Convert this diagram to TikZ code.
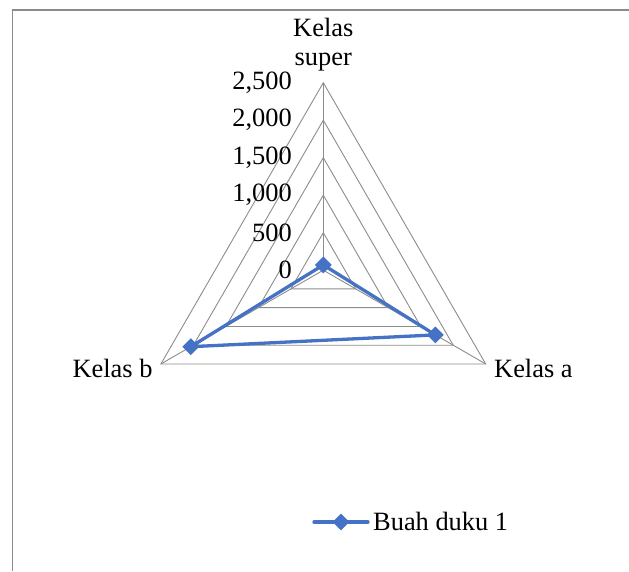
\documentclass[tikz,border=0pt]{standalone}
\usepackage{fontspec}
\setmainfont{Liberation Serif}
\usetikzlibrary{shapes.geometric,calc}
\definecolor{gridgray}{RGB}{140,140,140}
\definecolor{framegray}{RGB}{140,140,140}
\definecolor{seriesblue}{RGB}{68,114,196}
\begin{document}
\begin{tikzpicture}[x=1pt,y=1pt,
  lbl/.style={inner sep=0pt,font=\fontsize{26.4}{29}\selectfont},
  gridline/.style={draw=gridgray,line width=0.9pt},
  series/.style={draw=seriesblue,line width=3.3pt,line join=round},
  marker/.style={diamond,fill=seriesblue,inner sep=0pt,minimum size=17pt}]
\useasboundingbox (0,0) rectangle (629,571);
% frame
\draw[framegray,line width=1.2pt] (12.5,0) -- (12.5,561) -- (629,561);
% center
\coordinate (C) at (323.3,300.8);
% grid rings
\foreach \k in {1,...,5}{
  \draw[gridline] ($(C)+(90:{37.5*\k})$) -- ($(C)+(-30:{37.5*\k})$) -- ($(C)+(210:{37.5*\k})$) -- cycle;
}
% axes
\coordinate (Vs) at ($(C)+(90:187.5)$);
\coordinate (Va) at ($(C)+(-30:187.5)$);
\coordinate (Vb) at ($(C)+(210:187.5)$);
\draw[gridline] (C) -- (Vs);
\draw[gridline] (C) -- (Va);
\draw[gridline] (C) -- (Vb);
% tick labels
\foreach \k/\t in {0/0,1/500,2/{1,000},3/{1,500},4/{2,000},5/{2,500}}{
  \node[lbl,anchor=east] (t\k) at (292,{300.8+37.5*\k}) {\t};
}
% category labels
\node[lbl,align=center,anchor=south] (Ls) at (323.3,499.6) {Kelas\\super};
\node[lbl,anchor=base east] (Lb) at (152.7,193.7) {Kelas b};
\node[lbl,anchor=base west] (La) at (494,193.7) {Kelas a};
% data
\coordinate (Ps) at ($(C)+(90:5.25)$);
\coordinate (Pa) at ($(C)+(-30:129.4)$);
\coordinate (Pb) at ($(C)+(210:153)$);
\draw[series] (Ps) -- (Pa) -- (Pb) -- cycle;
\node[marker] (Ms) at (Ps) {};
\node[marker] (Ma) at (Pa) {};
\node[marker] (Mb) at (Pb) {};
% legend
\coordinate (L1) at (314,49);
\coordinate (L2) at (368,49);
\draw[series,line cap=round] (L1) -- (L2);
\node[marker] (Ml) at (341,49) {};
\node[lbl,anchor=base west] (Lt) at (373,41) {Buah duku 1};
\end{tikzpicture}
\end{document}
